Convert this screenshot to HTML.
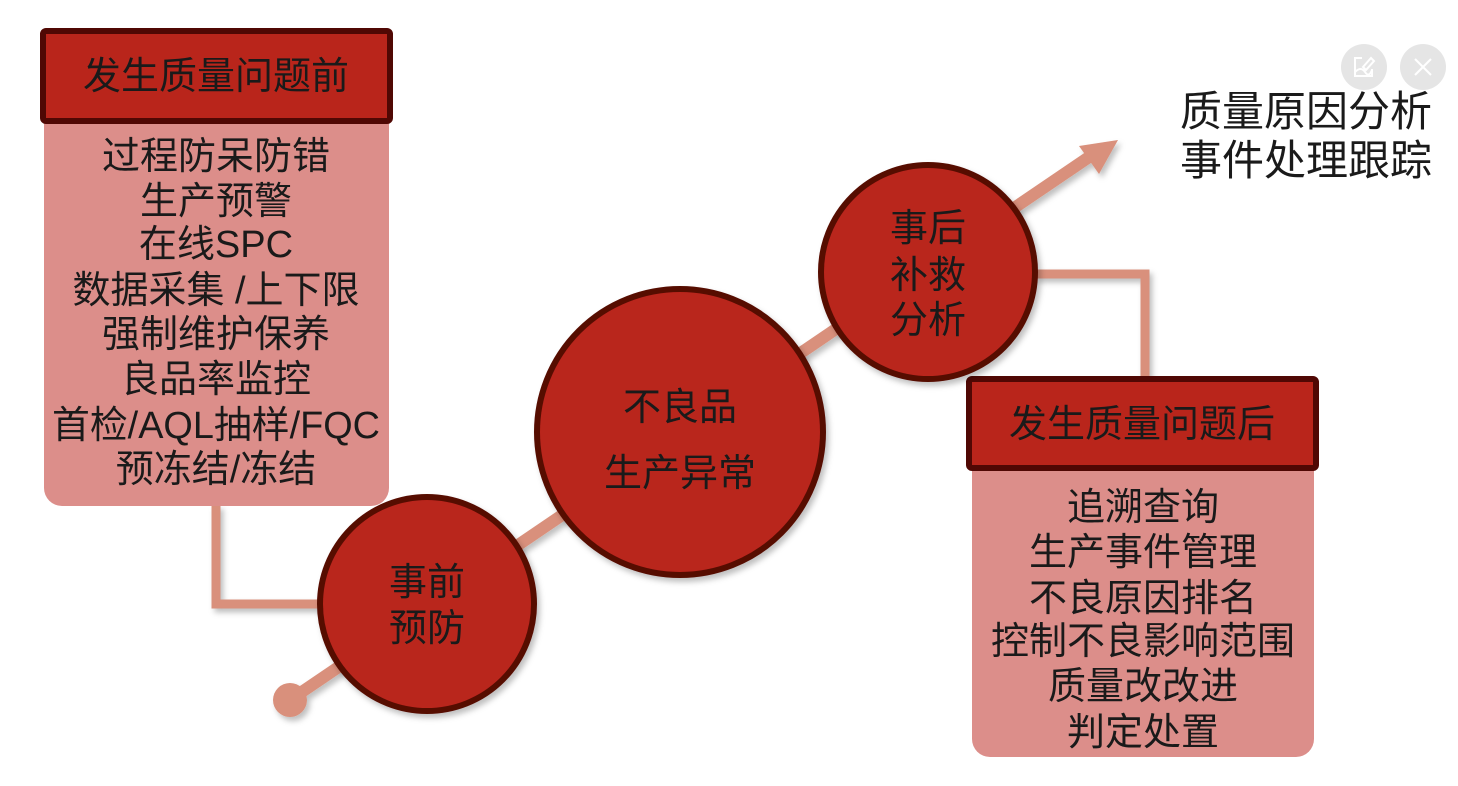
<!DOCTYPE html>
<html><head><meta charset="utf-8"><style>
html,body{margin:0;padding:0;background:#fff;width:1458px;height:786px;overflow:hidden}
svg text{font-family:"Liberation Sans","Noto Sans CJK SC",sans-serif;fill:#1a1a1a;text-anchor:middle}
</style></head><body>
<svg width="1458" height="786" viewBox="0 0 1458 786" xmlns="http://www.w3.org/2000/svg">
<defs><filter id="sh" x="-10%" y="-10%" width="130%" height="130%"><feDropShadow dx="3" dy="4" stdDeviation="3" flood-color="#000" flood-opacity="0.25"/></filter></defs>
<g filter="url(#sh)">
<line x1="290" y1="700" x2="1095" y2="153" stroke="#d9907b" stroke-width="12"/>
<polygon points="1118,140 1079,146 1099,174" fill="#d9907b"/>
<circle cx="290" cy="700" r="17" fill="#d9907b"/>
<polyline points="216,505 216,604 322,604" fill="none" stroke="#d9907b" stroke-width="9"/>
<polyline points="1035,274 1145,274 1145,380" fill="none" stroke="#d9907b" stroke-width="9"/>
</g>
<rect x="44" y="100" width="345" height="406" rx="18" fill="#dc8e8a"/>
<rect x="43" y="31" width="347" height="90" rx="3" fill="#b9251b" stroke="#500804" stroke-width="6"/>
<g font-size="38">
<text x="216" y="89">发生质量问题前</text>
<text x="216" y="169">过程防呆防错</text>
<text x="216" y="214">生产预警</text>
<text x="216" y="257">在线SPC</text>
<text x="216" y="303">数据采集 /上下限</text>
<text x="216" y="347">强制维护保养</text>
<text x="216" y="392">良品率监控</text>
<text x="216" y="438" textLength="328" lengthAdjust="spacingAndGlyphs">首检/AQL抽样/FQC</text>
<text x="216" y="482">预冻结/冻结</text>
</g>
<rect x="972" y="440" width="342" height="317" rx="18" fill="#dc8e8a"/>
<rect x="969" y="379" width="347" height="89" rx="3" fill="#b9251b" stroke="#500804" stroke-width="6"/>
<g font-size="38">
<text x="1142" y="437">发生质量问题后</text>
<text x="1143" y="520">追溯查询</text>
<text x="1143" y="565">生产事件管理</text>
<text x="1143" y="611">不良原因排名</text>
<text x="1143" y="654">控制不良影响范围</text>
<text x="1143" y="699">质量改改进</text>
<text x="1143" y="745">判定处置</text>
</g>
<g filter="url(#sh)">
<circle cx="427" cy="604" r="107" fill="#b9251b" stroke="#560a05" stroke-width="6"/>
<circle cx="680" cy="432" r="143" fill="#b9251b" stroke="#560a05" stroke-width="6"/>
<circle cx="928" cy="272" r="107" fill="#b9251b" stroke="#560a05" stroke-width="6"/>
</g>
<g font-size="38">
<text x="427" y="595">事前</text>
<text x="427" y="641">预防</text>
<text x="680" y="420">不良品</text>
<text x="680" y="486">生产异常</text>
<text x="928" y="241">事后</text>
<text x="928" y="288">补救</text>
<text x="928" y="333">分析</text>
</g>
<text x="1306" y="126" font-size="42">质量原因分析</text>
<text x="1306" y="175" font-size="42">事件处理跟踪</text>
<circle cx="1364" cy="67" r="23" fill="#e5e5e5"/>
<circle cx="1423" cy="67" r="23" fill="#e5e5e5"/>
<g stroke="#fff" stroke-width="2" fill="none">
<path d="M1362,58 h-7 v18 h17 v-7"/>
<path d="M1355,72 q6,-6 10,0 t7,-2"/>
<path d="M1363,67 l8,-9 l3,3 l-8,9 z"/>
<path d="M1415,59 l16,16 M1431,59 l-16,16"/>
</g>
</svg>
</body></html>
